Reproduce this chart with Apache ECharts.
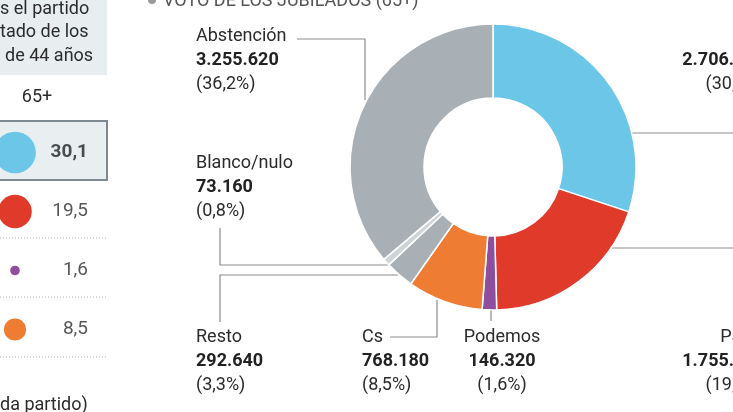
<!DOCTYPE html>
<html>
<head>
<meta charset="utf-8">
<script src="https://cdn.jsdelivr.net/npm/echarts@6/dist/echarts.min.js"></script>
<style>
  html, body { margin: 0; padding: 0; background: #fff; }
  #chart { width: 733px; height: 412px; }
</style>
</head>
<body>
<div id="chart"></div>
<script>
// voto de los jubilados (65+)
const parties = ['PP', 'PSOE', 'Podemos', 'Cs', 'Resto', 'Blanco/nulo', 'Abstención']
const votes = [2706540, 1755380, 146320, 768180, 292640, 73160, 3255620]
const percents = [30.1, 19.5, 1.6, 8.5, 3.3, 0.8, 36.2]
const colors = ['#6cc6e8', '#e03a2b', '#8f4d9e', '#ee7c33', '#a9b0b5', '#cfd4d7', '#a9b0b5']

// columna 65+ de la tabla
const rows65 = ['PP', 'PSOE', 'Podemos', 'Cs']
const share65 = [30.1, 19.5, 1.6, 8.5]

const FONT = 'Roboto, "Noto Sans", sans-serif'
const TXT = '#2b2b2b'

const fmtVotes = v => String(v).replace(/\B(?=(\d{3})+(?!\d))/g, '.')
const fmtPct = v => v.toFixed(1).replace('.', ',')

// posicion de cada etiqueta y su linea guia
const labelPos = {
  'PP': { x: 765, y: 60, align: 'right', line: [[632, 133], [700, 133], [740, 133]] },
  'PSOE': { x: 765, y: 361, align: 'right', line: [[612, 248], [700, 248], [740, 248]] },
  'Podemos': { x: 502, y: 361, align: 'center', line: [[491, 309], [491, 315], [491, 321]] },
  'Cs': { x: 362, y: 361, align: 'left', line: [[437, 300], [437, 337], [390, 337]] },
  'Resto': { x: 196, y: 361, align: 'left', line: [[398, 275], [220, 275], [220, 322]] },
  'Blanco/nulo': { x: 196, y: 187, align: 'left', line: [[388, 265], [220, 265], [220, 228]] },
  'Abstención': { x: 196, y: 60, align: 'left', line: [[365, 100], [365, 39], [297, 39]] }
}

const chart = echarts.init(document.getElementById('chart'))

const dotted = y => ({
  type: 'line',
  shape: { x1: 0, y1: y, x2: 107, y2: y },
  style: { stroke: '#b5b5b5', lineDash: [1, 2], lineWidth: 1 }
})

const graphic = [
  // recuadro de la pregunta
  { type: 'rect', shape: { x: 0, y: 0, width: 107, height: 75 }, style: { fill: '#e8edf0' } },
  { type: 'text', x: 0, y: 0, style: { text: 's el partido', font: '18px ' + FONT, fill: TXT } },
  { type: 'text', x: 0, y: 23, style: { text: 'tado de los', font: '18px ' + FONT, fill: TXT } },
  { type: 'text', x: 5, y: 47, style: { text: 'de 44 años', font: '18px ' + FONT, fill: TXT } },
  { type: 'text', x: 37, y: 88, style: { text: '65+', font: '18px ' + FONT, fill: TXT, align: 'center' } },
  // fila destacada
  { type: 'rect', shape: { x: -2, y: 121, width: 109, height: 59 }, style: { fill: '#e9eef1', stroke: '#7f8990', lineWidth: 2 } },
  dotted(238),
  dotted(297),
  dotted(357),
  { type: 'text', x: 0, y: 396, style: { text: 'da partido)', font: '18px ' + FONT, fill: TXT } },
  // titulo
  { type: 'circle', shape: { cx: 152, cy: 0, r: 4 }, style: { fill: '#9a9a9a' } },
  { type: 'text', x: 163, y: -8, style: { text: 'VOTO DE LOS JUBILADOS (65+)', font: '18px ' + FONT, fill: '#555' } }
]

chart.setOption({
  backgroundColor: '#fff',
  animation: false,
  graphic: graphic,
  grid: { left: 0, width: 100, top: 123, height: 236 },
  xAxis: { type: 'value', min: 0, max: 100, show: false },
  yAxis: { type: 'category', data: rows65, inverse: true, show: false },
  series: [
    {
      type: 'scatter',
      data: share65.map((v, i) => ({ value: [15, i], itemStyle: { color: colors[i] } })),
      symbolSize: (val, p) => Math.sqrt(share65[p.dataIndex]) * 7.6,
      itemStyle: { opacity: 1 },
      silent: true
    },
    {
      type: 'scatter',
      data: share65.map((v, i) => ({
        value: [88, i],
        label: { fontWeight: i === 0 ? 'bold' : 'normal', color: i === 0 ? '#222' : TXT }
      })),
      symbolSize: 1,
      itemStyle: { color: 'transparent' },
      label: {
        show: true,
        position: 'inside',
        align: 'right',
        formatter: p => fmtPct(share65[p.dataIndex]),
        fontFamily: FONT,
        fontSize: 19
      },
      silent: true
    },
    {
      type: 'pie',
      center: [493, 167],
      radius: [69, 143],
      startAngle: 90,
      clockwise: true,
      avoidLabelOverlap: false,
      silent: true,
      data: parties.map((name, i) => ({ name: name, value: votes[i], itemStyle: { color: colors[i] } })),
      itemStyle: { borderColor: '#fff', borderWidth: 1.5 },
      label: {
        show: true,
        formatter: p => '{n|' + p.name + '}\n{v|' + fmtVotes(votes[p.dataIndex]) + '}\n{p|(' + fmtPct(percents[p.dataIndex]) + '%)}',
        rich: {
          n: { fontFamily: FONT, fontSize: 18, color: TXT, lineHeight: 24 },
          v: { fontFamily: FONT, fontSize: 18, fontWeight: 'bold', color: '#222', lineHeight: 24 },
          p: { fontFamily: FONT, fontSize: 18, color: TXT, lineHeight: 24 }
        }
      },
      labelLine: { show: true, lineStyle: { color: '#8c8c8c', width: 1.2 } },
      labelLayout: function (params) {
        const pos = labelPos[parties[params.dataIndex]]
        return { x: pos.x, y: pos.y, align: pos.align, verticalAlign: 'middle', labelLinePoints: pos.line }
      }
    }
  ]
})
</script>
</body>
</html>
